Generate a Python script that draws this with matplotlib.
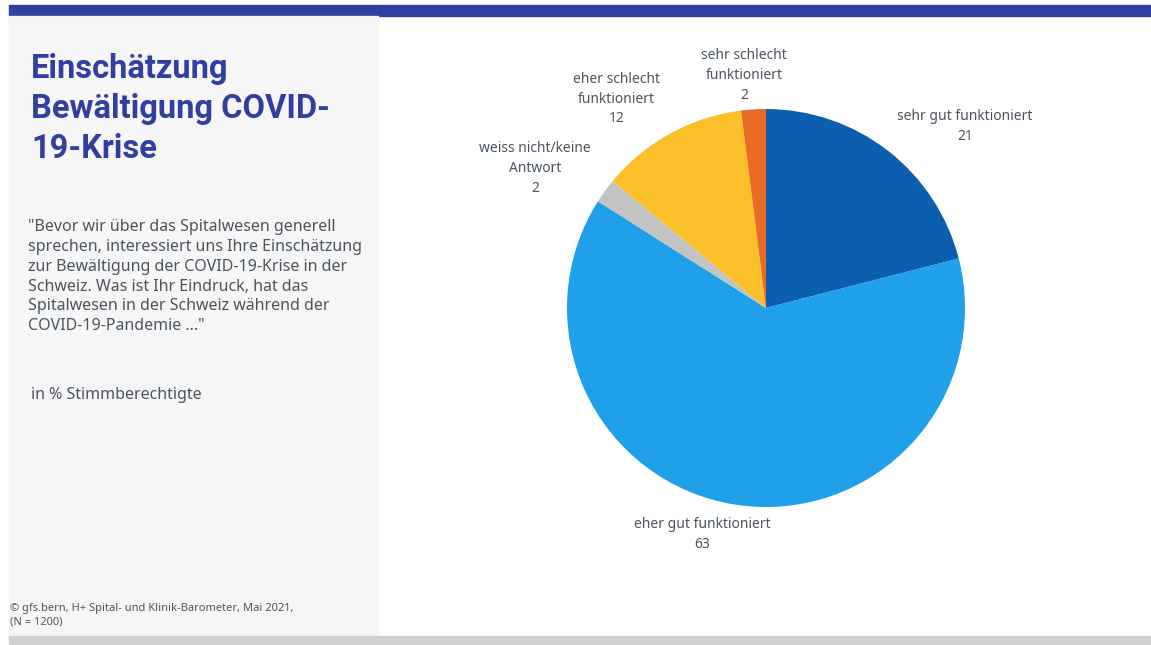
import matplotlib.pyplot as plt
from matplotlib.patches import Rectangle

plt.rcParams['font.family'] = ['Noto Sans', 'DejaVu Sans']

# Umfragewerte in %
kategorien = ['sehr gut funktioniert', 'eher gut funktioniert', 'weiss nicht/keine\nAntwort',
              'eher schlecht\nfunktioniert', 'sehr schlecht\nfunktioniert']
werte = [21, 63, 2, 12, 2]
farben = ['#0c5fae', '#1fa0e8', '#c3c3c3', '#fbbf2a', '#e86a25']

# Lage der Beschriftungen (Datenkoordinaten der Torte, Radius 1)
label_pos = [(1.00, 0.91), (-0.32, -1.14), (-1.16, 0.70), (-0.75, 1.05), (-0.11, 1.17)]

titel = 'Einschätzung\nBewältigung COVID-\n19-Krise'
frage = ('"Bevor wir über das Spitalwesen generell\n'
         'sprechen, interessiert uns Ihre Einschätzung\n'
         'zur Bewältigung der COVID-19-Krise in der\n'
         'Schweiz. Was ist Ihr Eindruck, hat das\n'
         'Spitalwesen in der Schweiz während der\n'
         'COVID-19-Pandemie ..."')
einheit = 'in % Stimmberechtigte'
quelle = '© gfs.bern, H+ Spital- und Klinik-Barometer, Mai 2021,\n(N = 1200)'

W, H = 1151, 645
fig = plt.figure(figsize=(W / 100, H / 100), dpi=100)
fig.patch.set_facecolor('white')

def px(x, y):
    return x / W, 1 - y / H

# Rahmen: blauer Balken oben, graues Seitenfeld, grauer Balken unten
fig.patches.append(Rectangle(px(9, 16), (W - 9) / W, 11 / H, transform=fig.transFigure,
                             color='#3140a0', zorder=0))
fig.patches.append(Rectangle(px(9, 636), 369 / W, 620 / H, transform=fig.transFigure,
                             color='#f6f6f6', zorder=0))
fig.patches.append(Rectangle(px(9, 645), (W - 9) / W, 9 / H, transform=fig.transFigure,
                             color='#d0d0d0', zorder=0))

fig.text(*px(31, 53), titel, color='#3140a0', fontsize=23.5, fontweight='bold',
         family=['Roboto', 'DejaVu Sans'], va='top', ha='left', linespacing=1.33)
fig.text(*px(28, 219), frage, color='#4a5560', fontsize=11.5, va='top', ha='left',
         linespacing=1.32)
fig.text(*px(31, 387), einheit, color='#4a5560', fontsize=11.5, va='top', ha='left')
fig.text(*px(10, 603), quelle, color='#4a5560', fontsize=8, va='top', ha='left',
         linespacing=1.25)

# Tortendiagramm
cx, cy, r = 766, 308, 199
ax = fig.add_axes([(cx - r) / W, (H - cy - r) / H, 2 * r / W, 2 * r / H])
ax.pie(werte, colors=farben, startangle=90, counterclock=False, radius=1,
       wedgeprops=dict(linewidth=0))
for kat, w, (lx, ly) in zip(kategorien, werte, label_pos):
    ax.text(lx, ly, f'{kat}\n{w}', ha='center', va='center', fontsize=10,
            color='#4a5560', linespacing=1.45)
ax.set_xlim(-1, 1)
ax.set_ylim(-1, 1)
ax.set_aspect('equal')
ax.axis('off')

fig.savefig('out.png', dpi=100)
